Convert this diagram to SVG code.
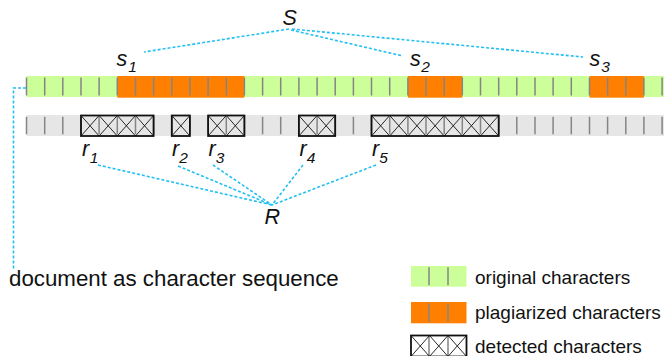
<svg xmlns="http://www.w3.org/2000/svg" width="664" height="356" viewBox="0 0 664 356">
  <style>
    .lbl { font-family: "Liberation Sans", Arial, sans-serif; fill: #111; }
    .it { font-style: italic; font-size: 21.5px; }
    .sub { font-size: 15.5px; }
    .legend { font-size: 19px; }
    .orig { fill: #ccff99; }
    .plag { fill: #ff8000; }
    .plain { fill: #e6e6e6; }
    .tick { stroke: #858585; stroke-width: 1.5; fill: none; }
    .cross { stroke: #111; stroke-width: 0.9; fill: none; }
    .box { stroke: #111; stroke-width: 1.8; fill: none; }
    .dot { stroke: #22c0f2; stroke-width: 1.6; stroke-dasharray: 3 2; fill: none; }
  </style>

  <!-- document as a row of character cells (cell width 18.16) -->
  <g id="sequence">
    <rect class="orig" x="26.5" y="76" width="650" height="21"/>
    <rect class="plag" x="117.3" y="76" width="127.1" height="21.7"/>
    <rect class="plag" x="407.9" y="76" width="54.4" height="21.7"/>
    <rect class="plag" x="589.5" y="76" width="54.4" height="21.7"/>
    <path class="tick" d="M26.5 77.5V95.5M44.7 77.5V95.5M62.8 77.5V95.5M81 77.5V95.5M99.1 77.5V95.5M117.3 77.5V95.5M135.5 77.5V95.5M153.6 77.5V95.5M171.8 77.5V95.5M189.9 77.5V95.5M208.1 77.5V95.5M226.3 77.5V95.5M244.4 77.5V95.5M262.6 77.5V95.5M280.7 77.5V95.5M298.9 77.5V95.5M317.1 77.5V95.5M335.2 77.5V95.5M353.4 77.5V95.5M371.5 77.5V95.5M389.7 77.5V95.5M407.9 77.5V95.5M426 77.5V95.5M444.2 77.5V95.5M462.3 77.5V95.5M480.5 77.5V95.5M498.7 77.5V95.5M516.8 77.5V95.5M535 77.5V95.5M553.1 77.5V95.5M571.3 77.5V95.5M589.5 77.5V95.5M607.6 77.5V95.5M625.8 77.5V95.5M643.9 77.5V95.5M662.1 77.5V95.5"/>
  </g>

  <!-- detection result row -->
  <g id="detections">
    <rect class="plain" x="26.5" y="115" width="650" height="21"/>
    <path class="tick" d="M26.5 116.7V134.3M44.7 116.7V134.3M62.8 116.7V134.3M81 116.7V134.3M99.1 116.7V134.3M117.3 116.7V134.3M135.5 116.7V134.3M153.6 116.7V134.3M171.8 116.7V134.3M189.9 116.7V134.3M208.1 116.7V134.3M226.3 116.7V134.3M244.4 116.7V134.3M262.6 116.7V134.3M280.7 116.7V134.3M298.9 116.7V134.3M317.1 116.7V134.3M335.2 116.7V134.3M353.4 116.7V134.3M371.5 116.7V134.3M389.7 116.7V134.3M407.9 116.7V134.3M426 116.7V134.3M444.2 116.7V134.3M462.3 116.7V134.3M480.5 116.7V134.3M498.7 116.7V134.3M516.8 116.7V134.3M535 116.7V134.3M553.1 116.7V134.3M571.3 116.7V134.3M589.5 116.7V134.3M607.6 116.7V134.3M625.8 116.7V134.3M643.9 116.7V134.3M662.1 116.7V134.3"/>
    <path class="cross" d="M81 115.5L99.1 136M81 136L99.1 115.5M99.1 115.5L117.3 136M99.1 136L117.3 115.5M117.3 115.5L135.5 136M117.3 136L135.5 115.5M135.5 115.5L153.6 136M135.5 136L153.6 115.5
      M171.8 115.5L189.9 136M171.8 136L189.9 115.5
      M208.1 115.5L226.3 136M208.1 136L226.3 115.5M226.3 115.5L244.4 136M226.3 136L244.4 115.5
      M298.9 115.5L317.1 136M298.9 136L317.1 115.5M317.1 115.5L335.2 136M317.1 136L335.2 115.5
      M371.5 115.5L389.7 136M371.5 136L389.7 115.5M389.7 115.5L407.9 136M389.7 136L407.9 115.5M407.9 115.5L426 136M407.9 136L426 115.5M426 115.5L444.2 136M426 136L444.2 115.5M444.2 115.5L462.3 136M444.2 136L462.3 115.5M462.3 115.5L480.5 136M462.3 136L480.5 115.5M480.5 115.5L498.7 136M480.5 136L498.7 115.5"/>
    <rect class="box" x="81" y="115.5" width="72.6" height="20.5"/>
    <rect class="box" x="171.8" y="115.5" width="18.1" height="20.5"/>
    <rect class="box" x="208.1" y="115.5" width="36.3" height="20.5"/>
    <rect class="box" x="298.9" y="115.5" width="36.3" height="20.5"/>
    <rect class="box" x="371.5" y="115.5" width="127.2" height="20.5"/>
  </g>

  <!-- dotted connectors -->
  <g id="connectors">
    <path class="dot" d="M289 29L144 52"/>
    <path class="dot" d="M291 30L403 56"/>
    <path class="dot" d="M292 29L583 57"/>
    <path class="dot" d="M98 165L272 205"/>
    <path class="dot" d="M178 166L272 205"/>
    <path class="dot" d="M213 165L272 205"/>
    <path class="dot" d="M303 165L272 205"/>
    <path class="dot" d="M376 165L272 205"/>
    <path class="dot" d="M26 88H13.5V269"/>
  </g>

  <g id="S"><text class="lbl it" x="282.5" y="24.5">S</text></g>
  <g id="s1"><text class="lbl it" x="116.5" y="66">s<tspan class="sub" dx="1" dy="6">1</tspan></text></g>
  <g id="s2"><text class="lbl it" x="410" y="65.7">s<tspan class="sub" dx="0.5" dy="6">2</tspan></text></g>
  <g id="s3"><text class="lbl it" x="589.5" y="65.7">s<tspan class="sub" dx="1" dy="6">3</tspan></text></g>

  <g id="r1"><text class="lbl it" x="82" y="155.7">r<tspan class="sub" dx="0.5" dy="7.3">1</tspan></text></g>
  <g id="r2"><text class="lbl it" x="172" y="155.7">r<tspan class="sub" dy="7.3">2</tspan></text></g>
  <g id="r3"><text class="lbl it" x="208.5" y="155.7">r<tspan class="sub" dy="7.3">3</tspan></text></g>
  <g id="r4"><text class="lbl it" x="299.5" y="155.7">r<tspan class="sub" dy="7.3">4</tspan></text></g>
  <g id="r5"><text class="lbl it" x="372" y="155.7">r<tspan class="sub" dy="7.3">5</tspan></text></g>
  <g id="R"><text class="lbl it" x="264.5" y="224">R</text></g>

  <g id="doc-label"><text class="lbl" x="9" y="286" font-size="22.3">document as character sequence</text></g>

  <!-- legend -->
  <g id="legend-original">
    <rect class="orig" x="411" y="266" width="55.5" height="20.7"/>
    <path class="tick" d="M429 267.3V285.3M448 267.3V285.3"/>
    <text class="lbl legend" x="475" y="283.5">original characters</text>
  </g>
  <g id="legend-plagiarized">
    <rect class="plag" x="411" y="302" width="55.5" height="21.3"/>
    <path class="tick" d="M429 303.3V321.8M448 303.3V321.8"/>
    <text class="lbl legend" x="475" y="319">plagiarized characters</text>
  </g>
  <g id="legend-detected">
    <path class="tick" d="M429 336V356M448 336V356"/>
    <path class="cross" d="M411 335.5L429.5 356.5M411 356.5L429.5 335.5M429.5 335.5L448 356.5M429.5 356.5L448 335.5M448 335.5L466.5 356.5M448 356.5L466.5 335.5"/>
    <rect class="box" x="411" y="335.5" width="55.5" height="21"/>
    <text class="lbl legend" x="475" y="353">detected characters</text>
  </g>
</svg>
